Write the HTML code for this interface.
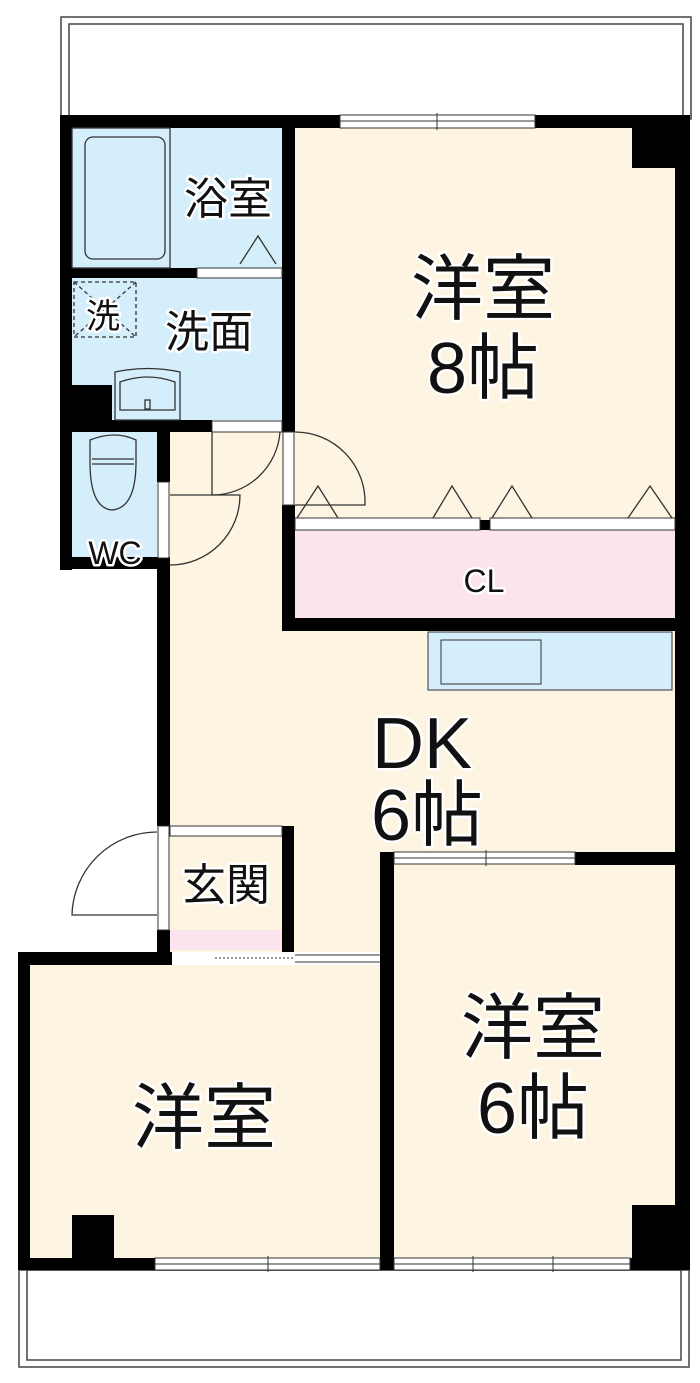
<!DOCTYPE html>
<html><head><meta charset="utf-8"><style>
body{margin:0;background:#fff}
svg{display:block}
text{font-family:"Liberation Sans","Noto Sans CJK JP",sans-serif;fill:#111;text-anchor:middle;paint-order:stroke;stroke:#fff;stroke-width:5px;stroke-linejoin:round}
</style></head><body>
<svg width="700" height="1383" viewBox="0 0 700 1383" xmlns="http://www.w3.org/2000/svg">
<rect x="61" y="17" width="630" height="102" fill="#fff" stroke="#444" stroke-width="1.5"/>
<rect x="69" y="24" width="614" height="95" fill="none" stroke="#444" stroke-width="1.5"/>
<rect x="19" y="1270" width="670" height="97" fill="#fff" stroke="#444" stroke-width="1.5"/>
<rect x="27" y="1270" width="654" height="90" fill="none" stroke="#444" stroke-width="1.5"/>

<rect x="72" y="128" width="210" height="292" fill="#d4eefb"/>
<rect x="72" y="432" width="85" height="125" fill="#d4eefb"/>
<rect x="170" y="432" width="510" height="522" fill="#fdf5e2"/>
<rect x="295" y="128" width="380" height="395" fill="#fdf5e2"/>
<rect x="295" y="530" width="380" height="88" fill="#fbe4ee"/>
<rect x="428" y="632" width="244" height="58" fill="#d4eefb" stroke="#333" stroke-width="1"/>
<rect x="441" y="640" width="100" height="44" fill="#d4eefb" stroke="#333" stroke-width="1"/>
<rect x="170" y="930" width="112" height="20" fill="#fbe4ee"/>
<rect x="30" y="965" width="350" height="295" fill="#fdf5e2"/>
<rect x="394" y="865" width="285" height="395" fill="#fdf5e2"/>

<g fill="#000">
<rect x="60" y="115" width="280" height="13"/>
<rect x="535" y="115" width="155" height="13"/>
<rect x="60" y="115" width="12" height="455"/>
<rect x="72" y="268" width="125" height="10"/>
<rect x="72" y="385" width="40" height="36"/>
<rect x="60" y="420" width="152" height="12"/>
<rect x="60" y="557" width="110" height="12"/>
<rect x="157" y="432" width="13" height="50"/>
<rect x="157" y="558" width="13" height="268"/>
<rect x="157" y="930" width="13" height="35"/>
<rect x="282" y="115" width="13" height="317"/>
<rect x="282" y="505" width="13" height="125"/>
<rect x="282" y="618" width="408" height="13"/>
<rect x="675" y="115" width="15" height="1155"/>
<rect x="632" y="128" width="43" height="40"/>
<rect x="480" y="520" width="10" height="10"/>
<rect x="282" y="826" width="12" height="138"/>
<rect x="380" y="852" width="14" height="418"/>
<rect x="575" y="852" width="115" height="13"/>
<rect x="18" y="952" width="154" height="13"/>
<rect x="18" y="952" width="12" height="318"/>
<rect x="18" y="1258" width="137" height="12"/>
<rect x="630" y="1258" width="60" height="12"/>
<rect x="632" y="1205" width="45" height="55"/>
<rect x="72" y="1215" width="42" height="45"/>
</g>

<g fill="#fff" stroke="#333" stroke-width="1">
<rect x="340" y="115" width="195" height="13"/><line x1="340" y1="121" x2="535" y2="121"/><line x1="437" y1="113" x2="437" y2="130"/>
<rect x="394" y="852" width="181" height="12"/><line x1="394" y1="858" x2="575" y2="858"/><line x1="486" y1="850" x2="486" y2="866"/>
<rect x="155" y="1258" width="225" height="12"/><line x1="155" y1="1264" x2="380" y2="1264"/><line x1="268" y1="1256" x2="268" y2="1272"/>
<rect x="394" y="1258" width="236" height="12"/><line x1="394" y1="1264" x2="630" y2="1264"/><line x1="473" y1="1256" x2="473" y2="1272"/><line x1="553" y1="1256" x2="553" y2="1272"/>
<rect x="197" y="268" width="85" height="10"/>
<rect x="212" y="421" width="70" height="11"/>
<rect x="158" y="482" width="11" height="76"/>
<rect x="283" y="432" width="11" height="73"/>
<rect x="170" y="826" width="112" height="10"/>
<rect x="158" y="826" width="11" height="104"/>
<rect x="295" y="518" width="185" height="12"/><rect x="490" y="518" width="185" height="12"/>
<rect x="172" y="952" width="208" height="12" stroke="none"/>
<line x1="215" y1="958" x2="295" y2="958" stroke-dasharray="2 2"/>
<line x1="295" y1="955" x2="380" y2="955"/><line x1="295" y1="962" x2="380" y2="962"/>
</g>

<g fill="none" stroke="#333" stroke-width="1.3">
<rect x="72" y="128" width="98" height="140"/>
<rect x="85" y="137" width="80" height="122" rx="8"/>
<polyline points="240,264 258,236 276,264"/>
<rect x="74" y="282" width="62" height="55" stroke-dasharray="4 3"/>
<line x1="74" y1="282" x2="136" y2="337" stroke-dasharray="4 3"/><line x1="136" y1="282" x2="74" y2="337" stroke-dasharray="4 3"/>
<path d="M115 372 Q148 365 180 372 L180 420 L115 420 Z" fill="#d4eefb"/>
<path d="M120 382 Q148 372 175 382 L175 410 L120 410 Z"/>
<rect x="145" y="400" width="5" height="9"/>
<path d="M90 440 Q115 430 136 440 L136 462 Q136 508 112 510 Q90 508 90 462 Z" fill="#d4eefb"/>
<line x1="92" y1="459" x2="134" y2="459"/><line x1="92" y1="464" x2="134" y2="464"/>
<path d="M212 432 L212 495 M212 495 A68 68 0 0 0 280 432"/>
<path d="M170 495 L240 495 A70 70 0 0 1 170 565"/>
<path d="M295 432 A70 70 0 0 1 365 505 L295 505"/>
<polyline points="297,518 318,486 338,518"/>
<polyline points="433,518 452,486 472,518"/>
<polyline points="492,518 512,486 532,518"/>
<polyline points="628,518 650,486 672,518"/>
<path d="M157 832 A85 85 0 0 0 72 915 L157 915"/>
</g>

<text x="228" y="214" font-size="44">浴室</text>
<text x="103" y="328" font-size="34">洗</text>
<text x="209" y="347" font-size="44">洗面</text>
<text x="115" y="564" font-size="32">WC</text>
<text x="484" y="592" font-size="32">CL</text>
<text x="483" y="314" font-size="72">洋室</text>
<text x="483" y="393" font-size="72">8帖</text>
<text x="422" y="768" font-size="72">DK</text>
<text x="427" y="840" font-size="72">6帖</text>
<text x="226" y="900" font-size="44">玄関</text>
<text x="533" y="1053" font-size="72">洋室</text>
<text x="533" y="1133" font-size="72">6帖</text>
<text x="204" y="1143" font-size="72">洋室</text>
</svg>
</body></html>
